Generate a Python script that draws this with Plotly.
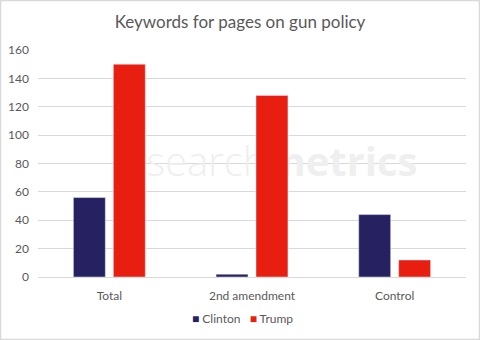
import plotly.graph_objects as go

categories = ["Total", "2nd amendment", "Control"]
clinton = [56, 2, 44]
trump = [150, 128, 12]
y_ticks = [0, 20, 40, 60, 80, 100, 120, 140, 160]
series_names = ["Clinton", "Trump"]

NAVY = "#262262"
RED = "#E81E10"
GRAY_TXT = "#595959"
GRID = "#d9d9d9"
FONT = "Lato"

W, H = 480, 340
L, R, T, B = 38, 14, 50, 63
PW, PH = W - L - R, H - T - B

fig = go.Figure()

# watermark on the base (underneath) subplot
fig.add_trace(go.Scatter(
    x=[0.57], y=[0.49], mode="text",
    text=["<span style='font-weight:300'>search</span><b>metrics</b>"],
    textfont=dict(family="Open Sans", size=40, color="#efefef"),
    xaxis="x", yaxis="y", showlegend=False, hoverinfo="skip",
))

fig.add_trace(go.Bar(x=categories, y=clinton, name=series_names[0], marker_color=NAVY,
                     xaxis="x2", yaxis="y2", showlegend=False))
fig.add_trace(go.Bar(x=categories, y=trump, name=series_names[1], marker_color=RED,
                     xaxis="x2", yaxis="y2", showlegend=False))

fig.update_layout(
    width=W, height=H,
    margin=dict(l=L, r=R, t=T, b=B, autoexpand=False),
    paper_bgcolor="white", plot_bgcolor="white",
    font=dict(family=FONT, size=12, color=GRAY_TXT),
    title=dict(text="Keywords for pages on gun policy", x=0.5, xref="container",
               xanchor="center", y=1 - 22 / H, yanchor="middle",
               font=dict(family=FONT, size=17, color=GRAY_TXT)),
    barmode="group", bargap=0.44, bargroupgap=0.2,
    xaxis=dict(range=[0, 1], visible=False, fixedrange=True),
    yaxis=dict(range=[0, 1], visible=False, fixedrange=True),
    xaxis2=dict(overlaying="x", type="category", showgrid=False, showline=True,
                linecolor=GRID, linewidth=1, ticks="", ticklabelstandoff=8,
                tickfont=dict(size=12, color=GRAY_TXT)),
    yaxis2=dict(overlaying="y", side="left", range=[0, 160], tickvals=y_ticks,
                showgrid=True, gridcolor=GRID, gridwidth=1, zeroline=False,
                showline=False, ticks="", ticklabelstandoff=8,
                tickfont=dict(size=12, color=GRAY_TXT)),
    showlegend=False,
)

legend_text = (
    f"<span style='color:{NAVY}'>■</span> {series_names[0]}"
    f"&nbsp;&nbsp;&nbsp;<span style='color:{RED}'>■</span> {series_names[1]}"
)
fig.add_annotation(text=legend_text, xref="paper", yref="paper",
                   x=(242 - L) / PW, y=(T + PH - 318) / PH,
                   xanchor="center", yanchor="middle", showarrow=False,
                   font=dict(family=FONT, size=12, color=GRAY_TXT))

fig.add_shape(type="rect", xref="paper", yref="paper",
              x0=(0.5 - L) / PW, x1=(W - 0.5 - L) / PW,
              y0=(T + PH - (H - 0.5)) / PH, y1=(T + PH - 0.5) / PH,
              line=dict(color=GRID, width=1.5), fillcolor="rgba(0,0,0,0)",
              layer="below")

fig.write_html("out.html")
